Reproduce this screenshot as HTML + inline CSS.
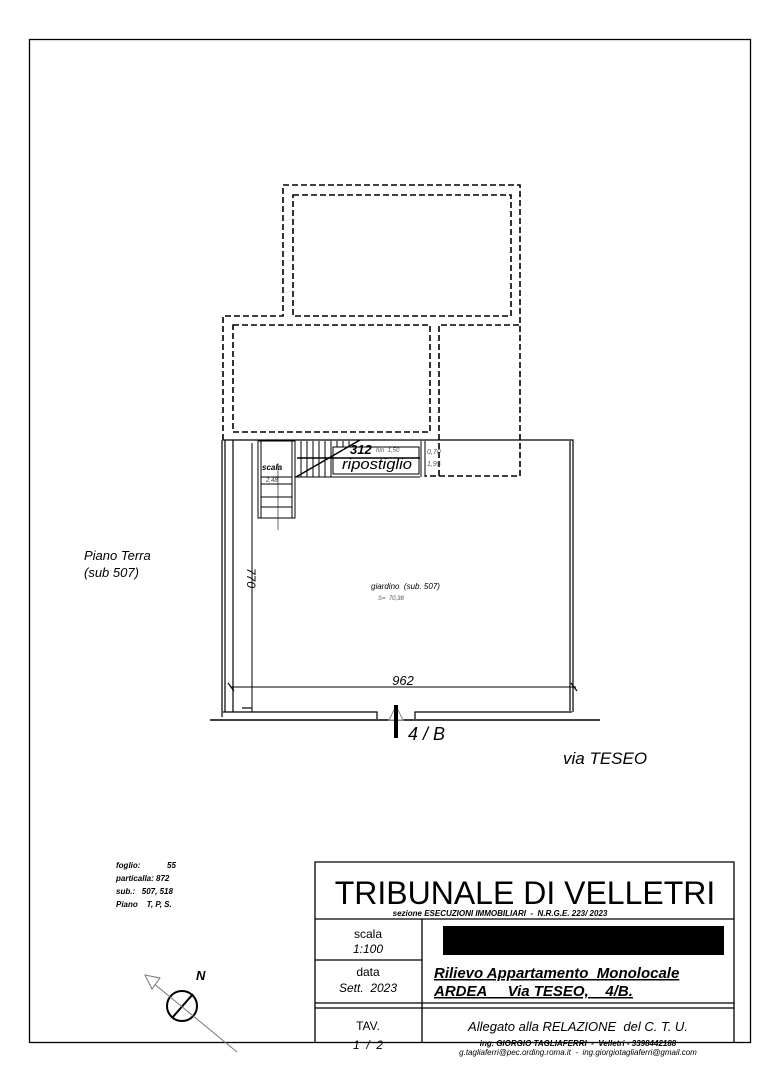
<!DOCTYPE html>
<html><head><meta charset="utf-8"><style>
body{margin:0;background:#fff}
svg text{font-family:"Liberation Sans",sans-serif;white-space:pre}
</style></head><body>
<svg width="764" height="1080" viewBox="0 0 764 1080" xmlns="http://www.w3.org/2000/svg">
<rect x="29.5" y="39.5" width="721" height="1003" fill="none" stroke="#000" stroke-width="1.3"/>
<g fill="none" stroke="#000" stroke-width="1.6" stroke-dasharray="6,3">
<path d="M223,440 V316 H283 V185 H520 V476 H425"/>
<rect x="293" y="195" width="218" height="121"/>
<rect x="233" y="325" width="197" height="107"/>
<path d="M439,476 V325 H520"/>
</g>
<g fill="none" stroke="#000" stroke-width="1.2">
<path d="M223,440 H573 V712"/>
<path d="M570,441 V711"/>
<path d="M222,440 V717"/>
<path d="M225,440 V712"/>
<path d="M233,440 V712"/>
<path d="M223,712 H377 V719"/>
<path d="M415,719 V712 H572"/>
<path d="M210,720 H600" stroke-width="1.4"/>
<path d="M252,443 V712" stroke-width="1"/>
<path d="M231,687 H576" stroke-width="1"/>
<path d="M228,683 l6,8 M571,683 l6,8"/>
<path d="M242,708 h10"/>
</g>
<g fill="none" stroke="#000" stroke-width="1">
<rect x="258" y="441" width="37" height="77"/>
<rect x="261" y="441" width="31" height="77"/>
<path d="M261,477 H292 M261,484 H292 M261,497 H292 M261,507 H292" />
<path d="M295,477 H420"/>
<path d="M301,441 V477 M307,441 V477 M313,441 V477 M319,441 V477 M325,441 V477 M331,441 V477 M337,441 V447 M343,441 V447 M349,441 V447"/>
<rect x="333" y="447" width="86" height="27"/>
<path d="M296,477 L360,440" stroke-width="1.5"/>
<path d="M297,458 H420" stroke-width="1.5"/>
<path d="M421,441 V477 M425,441 V477"/>
<path d="M278,463 V530" stroke-width="0.6"/>
</g>
<text x="262" y="470" font-size="8" font-style="italic" font-weight="bold">scala</text>
<text x="266" y="482" font-size="6" font-style="italic" fill="#444">2,48</text>
<text x="342" y="469" font-size="15" font-style="italic" textLength="70" lengthAdjust="spacingAndGlyphs">ripostiglio</text>
<text x="350" y="454" font-size="13" font-style="italic" font-weight="bold">312</text>
<text x="376" y="452" font-size="6" font-style="italic" fill="#555">hm  1,50</text>
<text x="427" y="454" font-size="7" font-style="italic" fill="#555">0,70</text>
<text x="427" y="466" font-size="7" font-style="italic" fill="#555">1,95</text>
<text x="371" y="589" font-size="8" font-style="italic">giardino  (sub. 507)</text>
<text x="378" y="600" font-size="6" font-style="italic" fill="#555">S=  70,38</text>
<text x="247" y="578" font-size="12" font-style="italic" transform="rotate(90 247 578)" text-anchor="middle">770</text>
<text x="403" y="685" font-size="13" font-style="italic" text-anchor="middle">962</text>
<path d="M396,706 L389,720 H403 Z" fill="#fff" stroke="#888"/>
<rect x="394" y="705" width="4" height="33" fill="#000"/>
<text x="408" y="740" font-size="18" font-style="italic">4 / B</text>
<text x="563" y="764" font-size="17" font-style="italic">via TESEO</text>
<text x="84" y="560" font-size="13" font-style="italic">Piano Terra</text>
<text x="84" y="577" font-size="13" font-style="italic">(sub 507)</text>
<g font-size="8" font-style="italic" font-weight="bold">
<text x="116" y="868">foglio:</text><text x="167" y="868">55</text>
<text x="116" y="881">particalla: 872</text>
<text x="116" y="894">sub.:   507, 518</text>
<text x="116" y="907">Piano    T, P, S.</text>
</g>
<text x="196" y="980" font-size="13" font-style="italic" font-weight="bold">N</text>
<circle cx="182" cy="1006" r="15" fill="none" stroke="#000" stroke-width="2"/>
<path d="M172,1018 L193,994" stroke="#000" stroke-width="2"/>
<path d="M147,978 L237,1052" stroke="#777" stroke-width="1"/>
<path d="M145,975 L160,978 L152,989 Z" fill="#fff" stroke="#777"/>
<g fill="none" stroke="#000" stroke-width="1.3">
<path d="M315,1042 V862 H734 V1042"/>
<path d="M315,919 H734 M315,960 H422 M315,1003 H734 M315,1008 H734 M422,919 V1042"/>
</g>
<text x="525" y="904" font-size="32" text-anchor="middle">TRIBUNALE DI VELLETRI</text>
<text x="500" y="916" font-size="8" font-style="italic" font-weight="bold" text-anchor="middle">sezione ESECUZIONI IMMOBILIARI  -  N.R.G.E. 223/ 2023</text>
<text x="368" y="938" font-size="12" text-anchor="middle">scala</text>
<text x="368" y="953" font-size="12" font-style="italic" text-anchor="middle">1:100</text>
<text x="368" y="976" font-size="12" text-anchor="middle">data</text>
<text x="368" y="992" font-size="12" font-style="italic" text-anchor="middle">Sett.  2023</text>
<text x="368" y="1030" font-size="12" text-anchor="middle">TAV.</text>
<text x="368" y="1049" font-size="12" font-style="italic" text-anchor="middle">1  /  2</text>
<rect x="443" y="926" width="281" height="29" fill="#000"/>
<text x="434" y="978" font-size="15" font-style="italic" font-weight="bold" text-decoration="underline">Rilievo Appartamento  Monolocale</text>
<text x="434" y="996" font-size="15" font-style="italic" font-weight="bold" text-decoration="underline">ARDEA     Via TESEO,    4/B.</text>
<text x="578" y="1031" font-size="13" font-style="italic" text-anchor="middle">Allegato alla RELAZIONE  del C. T. U.</text>
<text x="578" y="1046" font-size="8" font-style="italic" font-weight="bold" text-anchor="middle">ing. GIORGIO TAGLIAFERRI  -  Velletri - 3398442188</text>
<text x="578" y="1055" font-size="8" font-style="italic" text-anchor="middle">g.tagliaferri@pec.ording.roma.it  -  ing.giorgiotagliaferri@gmail.com</text>
</svg>
</body></html>
